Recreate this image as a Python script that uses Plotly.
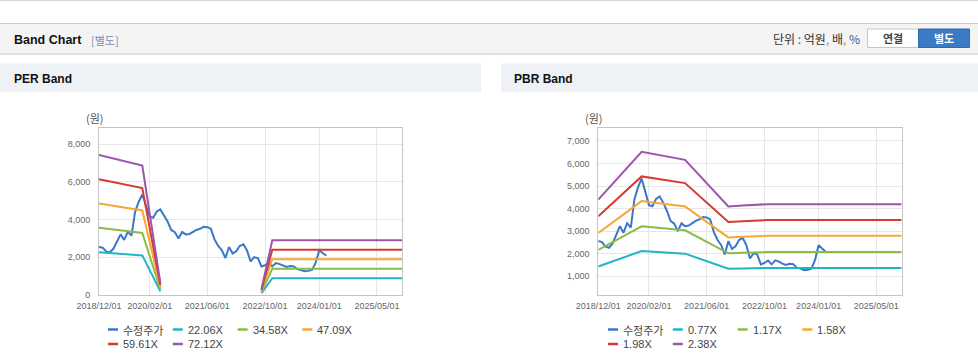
import pandas as pd
import plotly.graph_objects as go

W, H = 978, 361

# ---------------- data ----------------
PRICE_NAME = "수정주가"
PRICE = [2552, 2510, 2300, 2256, 2450, 2800, 3217, 2920, 3350, 3150,
         4400, 4950, 5330, 4750, 4150, 4100, 4430, 4540, 4250, 3900,
         3450, 3330, 2995, 3340, 3217, 3240, 3350, 3450, 3512, 3620,
         3600, 3512, 2950, 2600, 2380, 1960, 2550, 2200, 2330, 2600,
         2690, 2380, 1780, 2005, 1960, 1517, 1580, 1690, 1520, 1695,
         1640, 1550, 1490, 1540, 1520, 1370, 1330, 1260, 1280, 1330,
         1700, 2374, 2212, 2080]
PRICE_DATES = pd.date_range("2018-12-01", periods=len(PRICE), freq="MS")

PER_MULTIPLES = [22.06, 34.58, 47.09, 59.61, 72.12]
PER_LABELS = ["22.06X", "34.58X", "47.09X", "59.61X", "72.12X"]
EPS_DATES = ["2018-12-01", "2019-12-01", "2020-05-01", "2021-06-01",
             "2022-09-01", "2022-12-01", "2025-12-01"]
EPS = [103.0, 95.2, 9.0, None, 4.5, 40.3, 40.3]

PBR_MULTIPLES = [0.77, 1.17, 1.58, 1.98, 2.38]
PBR_LABELS = ["0.77X", "1.17X", "1.58X", "1.98X", "2.38X"]
BPS_DATES = ["2018-12-01", "2019-12-01", "2020-12-01", "2021-12-01",
             "2022-04-01", "2022-11-01", "2025-12-01"]
BPS = [1845, 2740, 2590, 1718, 1735, 1762, 1762]

X_TICKS = ["2018-12-01", "2020-02-01", "2021-06-01", "2022-10-01",
           "2024-01-01", "2025-05-01"]
X_TICK_LABELS = ["2018/12/01", "2020/02/01", "2021/06/01", "2022/10/01",
                 "2024/01/01", "2025/05/01"]
PER_Y_TICKS = [0, 2000, 4000, 6000, 8000]
PBR_Y_TICKS = [1000, 2000, 3000, 4000, 5000, 6000, 7000]

PRICE_COLOR = "#3a78c9"
BAND_COLORS = ["#22b4c6", "#8cbc47", "#f5a833", "#d63a31", "#9c55ad"]

FONT = "Liberation Sans, Arial, Noto Sans CJK KR, sans-serif"
KFONT = "Noto Sans CJK KR, Liberation Sans, sans-serif"


def X(px):
    return px / W


def Y(py):
    return 1 - py / H


fig = go.Figure()

# PER chart
fig.add_trace(go.Scatter(x=PRICE_DATES, y=PRICE, mode="lines", name=PRICE_NAME,
                         line=dict(color=PRICE_COLOR, width=2),
                         xaxis="x", yaxis="y", showlegend=False))
for m, lab, c in zip(PER_MULTIPLES, PER_LABELS, BAND_COLORS):
    vals = [None if e is None else m * e for e in EPS]
    fig.add_trace(go.Scatter(x=EPS_DATES, y=vals, mode="lines", name=lab,
                             line=dict(color=c, width=2), connectgaps=False,
                             xaxis="x", yaxis="y", showlegend=False))

# PBR chart
fig.add_trace(go.Scatter(x=PRICE_DATES, y=PRICE, mode="lines", name=PRICE_NAME,
                         line=dict(color=PRICE_COLOR, width=2),
                         xaxis="x2", yaxis="y2", showlegend=False))
for m, lab, c in zip(PBR_MULTIPLES, PBR_LABELS, BAND_COLORS):
    vals = [m * b for b in BPS]
    fig.add_trace(go.Scatter(x=BPS_DATES, y=vals, mode="lines", name=lab,
                             line=dict(color=c, width=2),
                             xaxis="x2", yaxis="y2", showlegend=False))

xcommon = dict(type="date", range=["2018-12-01", "2025-12-01"],
               tickvals=X_TICKS, ticktext=X_TICK_LABELS,
               showgrid=True, gridcolor="#e6e6e6", gridwidth=1,
               showline=True, linecolor="#c4c4c4", linewidth=1, mirror=True,
               zeroline=False, ticks="", ticklabelstandoff=2, automargin=False,
               tickfont=dict(family=FONT, size=9, color="#666666"))
ycommon = dict(showgrid=True, gridcolor="#e6e6e6", gridwidth=1,
               showline=True, linecolor="#c4c4c4", linewidth=1, mirror=True,
               zeroline=False, ticks="", tickformat=",d", ticklabelstandoff=6,
               automargin=False,
               tickfont=dict(family=FONT, size=9, color="#666666"))

dom_y = [Y(295), Y(128.3)]
fig.update_layout(
    width=W, height=H, autosize=False,
    margin=dict(l=0, r=0, t=0, b=0, pad=0, autoexpand=False),
    paper_bgcolor="white", plot_bgcolor="white",
    xaxis=dict(domain=[X(99), X(402.3)], anchor="y", **xcommon),
    yaxis=dict(domain=dom_y, anchor="x", range=[0, 8843],
               tickvals=PER_Y_TICKS, **ycommon),
    xaxis2=dict(domain=[X(598.3), X(901.7)], anchor="y2", **xcommon),
    yaxis2=dict(domain=dom_y, anchor="x2", range=[156, 7564],
                tickvals=PBR_Y_TICKS, **ycommon),
    hovermode=False,
)

shapes = []
ann = []


def rect(x0, y0, x1, y1, fill, line=None, lw=0):
    shapes.append(dict(type="rect", xref="paper", yref="paper",
                       x0=X(x0), x1=X(x1), y0=Y(y1), y1=Y(y0),
                       fillcolor=fill, line=dict(color=line or fill, width=lw),
                       layer="below"))


def hline(x0, x1, y, color, w=1):
    shapes.append(dict(type="line", xref="paper", yref="paper",
                       x0=X(x0), x1=X(x1), y0=Y(y), y1=Y(y),
                       line=dict(color=color, width=w)))


def text(x, y, s, size=12, color="#222", bold=False, xanchor="left",
         family=FONT):
    if bold:
        s = "<b>" + s + "</b>"
    ann.append(dict(xref="paper", yref="paper", x=X(x), y=Y(y), text=s,
                    showarrow=False, xanchor=xanchor, yanchor="middle",
                    font=dict(size=size, color=color, family=family)))


# top thin line
hline(0, W, 0.5, "#d8d8d8", 1)
# Band Chart header bar
rect(0, 23, W, 53, "#f4f4f4")
hline(0, W, 23.5, "#cccccc", 1)
hline(0, W, 54, "#e2e2e2", 2)
text(12, 40, "Band Chart", size=12.5, color="#111", bold=True)
text(89, 40, "[별도]", size=11, color="#7d8db0", family=KFONT)
text(862, 39, "단위 <span style='color:#2a5caa'>:</span> 억원<span style='color:#e08a00'>,</span> 배<span style='color:#e08a00'>,</span> <span style='color:#2a5caa'>%</span>",
     size=12, color="#333", xanchor="right", family=KFONT)
# buttons
rect(867.5, 29, 918.5, 47.5, "#ffffff", "#c6c6c6", 1)
rect(918.5, 29, 969.5, 47.5, "#3a7bc3", "#2f6aad", 1)
text(893, 38.5, "연결", size=11, color="#444", bold=True, xanchor="center",
     family=KFONT)
text(944, 38.5, "별도", size=11, color="#ffffff", bold=True, xanchor="center",
     family=KFONT)

# panel headers
rect(0, 63.5, 481, 92, "#eef2f7")
rect(501, 63.5, W, 92, "#eef2f7")
text(12, 79, "PER Band", size=12, color="#111", bold=True)
text(512, 79, "PBR Band", size=12, color="#111", bold=True)

# unit labels
text(95, 118, "(원)", size=11, color="#555", xanchor="center", family=KFONT)
text(594, 118, "(원)", size=11, color="#555", xanchor="center", family=KFONT)

# legends (manual, from series names/colors)
ROWS = [329.5, 344]
COL_STEP = 64.8


def legend(base_x, labels, colors):
    for i, (lab, c) in enumerate(zip(labels, colors)):
        r, k = divmod(i, 4)
        x0 = base_x + k * COL_STEP
        y = ROWS[r]
        hline(x0, x0 + 10, y, c, 2.5)
        text(x0 + 13, y, lab, size=11, color="#444",
             family=KFONT if i == 0 else FONT)


legend(108, [PRICE_NAME] + PER_LABELS, [PRICE_COLOR] + BAND_COLORS)
legend(608, [PRICE_NAME] + PBR_LABELS, [PRICE_COLOR] + BAND_COLORS)

fig.update_layout(shapes=shapes, annotations=ann)
fig.write_html(
    "out.html",
    config={"displayModeBar": False, "responsive": False},
    post_script="document.body.style.margin='0';document.body.style.padding='0';"
                "document.documentElement.style.overflow='hidden';",
)
